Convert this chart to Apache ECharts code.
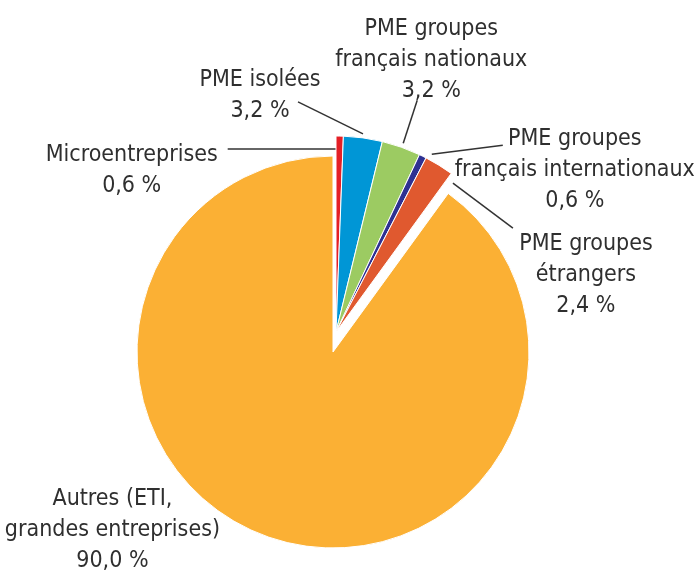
<!DOCTYPE html>
<html>
<head>
<meta charset="utf-8">
<script src="https://cdn.jsdelivr.net/npm/echarts@6/dist/echarts.min.js"></script>
<style>
  html, body { margin: 0; background: #fff; }
  #chart { width: 694px; height: 572px; }
</style>
</head>
<body>
<div id="chart"></div>
<script>
// données
var categories = [
  "Microentreprises",
  "PME isolées",
  "PME groupes\nfrançais nationaux",
  "PME groupes\nfrançais internationaux",
  "PME groupes\nétrangers",
  "Autres (ETI,\ngrandes entreprises)"
];
var shares = [0.6, 3.2, 3.2, 0.6, 2.4, 90.0];
var shareLabels = ["0,6 %", "3,2 %", "3,2 %", "0,6 %", "2,4 %", "90,0 %"];

// style
var colors = ["#e41f26", "#0096d6", "#9ccb62", "#2e3192", "#e0592f", "#fbb034"];
var center = [333, 352];
var radius = 196;
var groupShift = [3, -20]; // les PME sont détachées du reste
var groupCenter = [center[0] + groupShift[0], center[1] + groupShift[1]];
var fontFamily = "'DejaVu Sans Condensed', 'Roboto', sans-serif";

// décalages depuis le bord de chaque part : début du trait, fin du trait, centre du texte
var labelOffsets = [
  { s: [-3, 13], e: [-112, 13], l: [-208, 34] },
  { s: [0, -4], e: [-65, -36], l: [-103, -42] },
  { s: [2, -4], e: [16, -47], l: [30, -87] },
  { s: [9, -2], e: [80, -11], l: [152, 14] },
  { s: [14, 18], e: [74, 63], l: [147, 110] },
  { l: [-160, -8] }
];

function isGroup(i) {
  return i < 5;
}

// point du bord extérieur au milieu de chaque part
var total = shares.reduce(function (a, b) { return a + b; }, 0);
var acc = 0;
var edges = shares.map(function (v, i) {
  var mid = ((acc + v / 2) / total) * 2 * Math.PI;
  acc += v;
  var c = isGroup(i) ? groupCenter : center;
  return [c[0] + radius * Math.sin(mid), c[1] - radius * Math.cos(mid)];
});

function labelLayout(params) {
  var i = params.dataIndex;
  var o = labelOffsets[i];
  var p = edges[i];
  var res = {
    x: p[0] + o.l[0],
    y: p[1] + o.l[1],
    align: "center",
    verticalAlign: "middle"
  };
  if (o.s) {
    res.labelLinePoints = [
      [p[0] + o.s[0], p[1] + o.s[1]],
      [p[0] + o.e[0], p[1] + o.e[1]]
    ];
  }
  return res;
}

function buildData(visible) {
  return categories.map(function (name, i) {
    var show = visible(i);
    return {
      name: name,
      value: shares[i],
      itemStyle: {
        color: show ? colors[i] : "rgba(0,0,0,0)",
        borderColor: "#fff",
        borderWidth: show ? 1 : 0
      },
      label: { show: show },
      labelLine: { show: show && isGroup(i) }
    };
  });
}

var labelStyle = {
  position: "outside",
  formatter: function (p) {
    return p.name + "\n" + shareLabels[p.dataIndex];
  },
  color: "#2f2f2f",
  fontFamily: fontFamily,
  fontSize: 23,
  lineHeight: 31,
  align: "center"
};

var chart = echarts.init(document.getElementById("chart"));
chart.setOption({
  animation: false,
  series: [
    {
      name: "autres",
      type: "pie",
      center: center,
      radius: radius,
      startAngle: 90,
      clockwise: true,
      avoidLabelOverlap: false,
      emphasis: { disabled: true },
      label: labelStyle,
      labelLine: { show: false },
      labelLayout: labelLayout,
      data: buildData(function (i) { return !isGroup(i); })
    },
    {
      name: "pme",
      type: "pie",
      center: groupCenter,
      radius: radius,
      startAngle: 90,
      clockwise: true,
      avoidLabelOverlap: false,
      emphasis: { disabled: true },
      label: labelStyle,
      labelLine: { show: true, lineStyle: { color: "#333", width: 1.5 } },
      labelLayout: labelLayout,
      data: buildData(isGroup)
    }
  ]
});
</script>
</body>
</html>
